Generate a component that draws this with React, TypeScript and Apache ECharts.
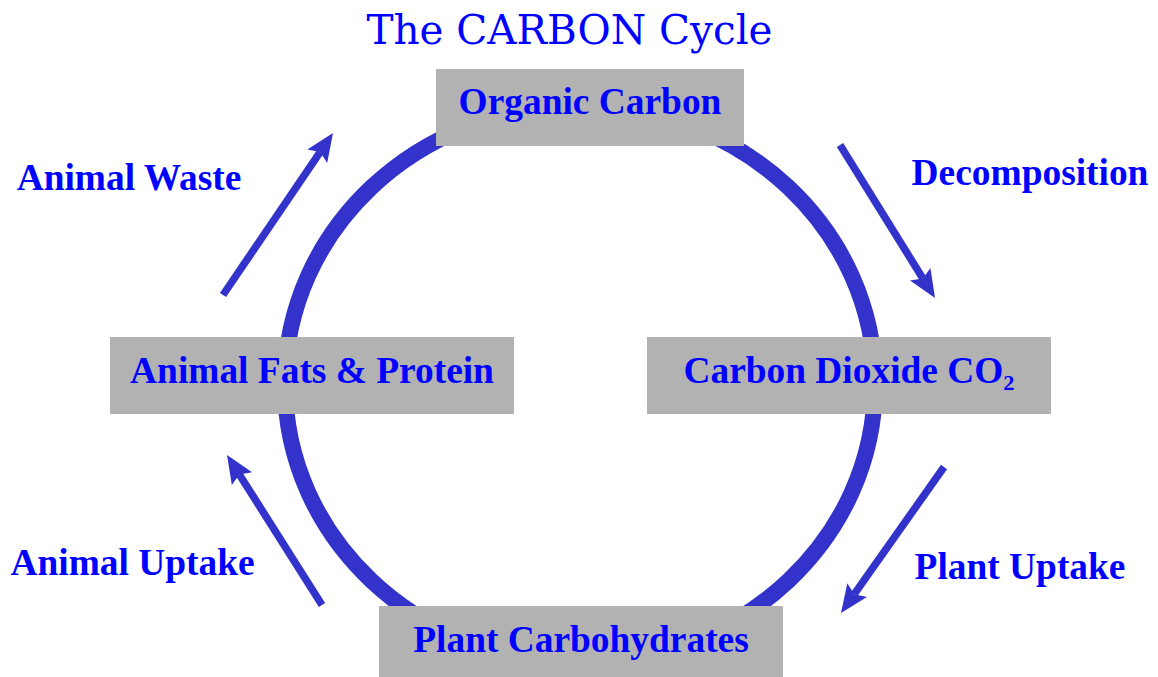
import React, { useEffect, useRef } from "react";
import * as echarts from "echarts";

const TITLE = "The CARBON Cycle";

// Boxed pools: [label, x, y, width, height]
const poolLabels = ["Organic Carbon", "Carbon Dioxide CO\u2082", "Plant Carbohydrates", "Animal Fats & Protein"];
const poolBoxes: number[][] = [
  [436, 69, 308, 77],
  [647, 337, 404, 77],
  [379, 606, 404, 80],
  [110, 337, 404, 77],
];
const poolTextY = [101, 370, 639.5, 370];

// Process labels
const processLabels = ["Decomposition", "Plant Uptake", "Animal Uptake", "Animal Waste"];
const processPos: number[][] = [
  [1030, 172.5],
  [1020, 566.5],
  [132.5, 562],
  [129, 177],
];

// Arrows: [tailX, tailY, tipX, tipY]
const arrows: number[][] = [
  [840, 145, 935, 298],
  [944, 467, 841, 613],
  [322, 605, 227, 455],
  [223, 295, 333, 133],
];

const BLUE = "#0000ff";
const RING = "#3333cc";
const GRAY = "#b2b2b2";
const LABEL_FONT = "bold 37.4px 'Liberation Serif', 'Times New Roman', serif";

function arrowElements(a: number[]) {
  const [x1, y1, x2, y2] = a;
  const dx = x2 - x1;
  const dy = y2 - y1;
  const len = Math.sqrt(dx * dx + dy * dy);
  const ux = dx / len;
  const uy = dy / len;
  const px = -uy;
  const py = ux;
  const headLen = 28;
  const headHalf = 12;
  const notch = 5;
  const bx = x2 - ux * headLen;
  const by = y2 - uy * headLen;
  const nx = x2 - ux * (headLen - notch);
  const ny = y2 - uy * (headLen - notch);
  return [
    {
      type: "line",
      shape: { x1, y1, x2: nx, y2: ny },
      style: { stroke: RING, lineWidth: 7.5 },
    },
    {
      type: "polygon",
      shape: {
        points: [
          [x2, y2],
          [bx + px * headHalf, by + py * headHalf],
          [nx, ny],
          [bx - px * headHalf, by - py * headHalf],
        ],
      },
      style: { fill: RING },
    },
  ];
}

export default function App() {
  const ref = useRef<HTMLDivElement>(null);
  useEffect(() => {
    if (!ref.current) return;
    const chart = echarts.init(ref.current, undefined, { renderer: "svg" });
    const elements: any[] = [];
    elements.push({
      type: "ellipse",
      shape: { cx: 580, cy: 384, rx: 295, ry: 278 },
      style: { fill: "none", stroke: RING, lineWidth: 16 },
    });
    arrows.forEach((a) => elements.push(...arrowElements(a)));
    poolLabels.forEach((label, i) => {
      const [x, y, w, h] = poolBoxes[i];
      elements.push({
        type: "rect",
        shape: { x, y, width: w, height: h },
        style: { fill: GRAY },
      });
      elements.push({
        type: "text",
        x: x + w / 2,
        y: poolTextY[i],
        style: {
          text: label,
          fill: BLUE,
          font: LABEL_FONT,
          textAlign: "center",
          textVerticalAlign: "middle",
        },
      });
    });
    processLabels.forEach((label, i) => {
      const [x, y] = processPos[i];
      elements.push({
        type: "text",
        x,
        y,
        style: {
          text: label,
          fill: BLUE,
          font: LABEL_FONT,
          textAlign: "center",
          textVerticalAlign: "middle",
        },
      });
    });
    elements.push({
      type: "text",
      x: 569.5,
      y: 30,
      style: {
        text: TITLE,
        fill: BLUE,
        font: "normal 40.5px 'DejaVu Serif', serif",
        textAlign: "center",
        textVerticalAlign: "middle",
      },
    });
    chart.setOption({
      animation: false,
      backgroundColor: "#ffffff",
      graphic: { elements },
    });
    return () => chart.dispose();
  }, []);
  return (
    <div
      ref={ref}
      style={{ position: "fixed", left: 0, top: 0, width: 1158, height: 677 }}
    />
  );
}
